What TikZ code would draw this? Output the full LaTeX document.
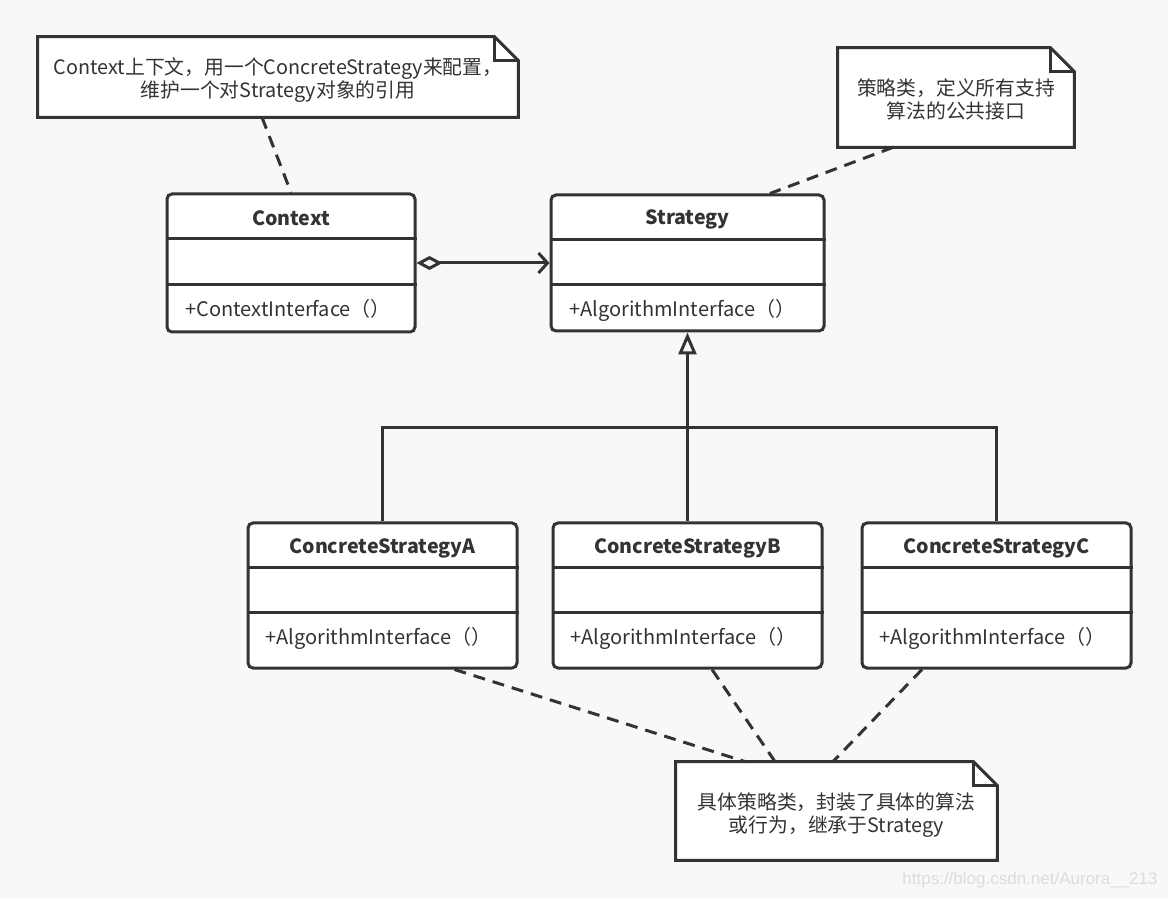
\documentclass[tikz,border=0pt]{standalone}
\usepackage{fontspec}
\setmainfont{Noto Sans CJK SC}
\newfontfamily\markfont{Liberation Sans}
\usetikzlibrary{arrows.meta}
\definecolor{line1}{HTML}{333333}
\definecolor{paper}{HTML}{F8F8F8}
\definecolor{mark1}{HTML}{DCDCDC}

% folded-corner note outline round an empty node
\newcommand{\notefold}[1]{%
  \filldraw[fill=white, draw=line1, line width=1.5pt, line join=miter]
    (#1.south west) -- (#1.north west) -- ([xshift=-12pt]#1.north east)
    -- ([yshift=-12pt]#1.north east) -- (#1.south east) -- cycle;
  \draw[line1, line width=1.5pt] ([xshift=-12pt]#1.north east) |- ([yshift=-12pt]#1.north east);
}

\tikzset{
  classbox/.style={draw=line1, fill=white, line width=1.5pt, rounded corners=2.5pt, inner sep=0pt},
  notebox/.style={inner sep=0pt},
  divider/.style={draw=line1, line width=1.5pt},
  classname/.style={font=\fontsize{9.8}{12}\selectfont\bfseries, text=line1},
  method/.style={font=\fontsize{10}{12}\selectfont, text=line1, anchor=west, inner sep=0pt},
  notetext/.style={font=\fontsize{9.9}{11.7}\selectfont, text=line1, align=center},
  notelink/.style={draw=line1, line width=1.5pt, dash pattern=on 6pt off 4pt},
  link/.style={draw=line1, line width=1.5pt}
}

\begin{document}
\begin{tikzpicture}[x=0.5pt, y=-0.5pt]
\useasboundingbox[fill=paper] (0,0) rectangle (1168,898);

% notes
\node[notebox, minimum width=240pt, minimum height=40pt] (contextnote) at (278,77) {};
\notefold{contextnote}
\node[notetext, yshift=-1.5pt] (contextnotetext) at (contextnote.center) {Context上下文，用一个ConcreteStrategy来配置，\\维护一个对Strategy对象的引用};

\node[notebox, minimum width=118pt, minimum height=49.5pt] (strategynote) at (956,97.5) {};
\notefold{strategynote}
\node[notetext, yshift=-1pt] (strategynotetext) at (strategynote.center) {策略类，定义所有支持\\算法的公共接口};

\node[notebox, minimum width=160.5pt, minimum height=49pt] (concretenote) at (836.5,811) {};
\notefold{concretenote}
\node[notetext, yshift=-2pt] (concretenotetext) at (concretenote.center) {具体策略类，封装了具体的算法\\或行为，继承于Strategy};

% classes
\node[classbox, minimum width=124pt, minimum height=69pt] (context) at (291,263) {};
\draw[divider] (context.west |- 0,239) -- (context.east |- 0,239);
\draw[divider] (context.west |- 0,285) -- (context.east |- 0,285);
\node[classname] (contextname) at (291,218) {Context};
\node[method] (contextop) at (185,309) {+ContextInterface（）};

\node[classbox, minimum width=136.5pt, minimum height=68pt] (strategy) at (687.5,263) {};
\draw[divider] (strategy.west |- 0,240) -- (strategy.east |- 0,240);
\draw[divider] (strategy.west |- 0,285) -- (strategy.east |- 0,285);
\node[classname] (strategyname) at (687.5,219) {Strategy};
\node[method] (strategyop) at (569,310) {+AlgorithmInterface（）};

\node[classbox, minimum width=134.5pt, minimum height=72.5pt] (concretea) at (382.5,595.5) {};
\draw[divider] (concretea.west |- 0,568) -- (concretea.east |- 0,568);
\draw[divider] (concretea.west |- 0,613) -- (concretea.east |- 0,613);
\node[classname] (concreteaname) at (382.5,548) {ConcreteStrategyA};
\node[method] (concreteaop) at (265,638) {+AlgorithmInterface（）};

\node[classbox, minimum width=134.5pt, minimum height=72.5pt] (concreteb) at (687.5,595.5) {};
\draw[divider] (concreteb.west |- 0,568) -- (concreteb.east |- 0,568);
\draw[divider] (concreteb.west |- 0,613) -- (concreteb.east |- 0,613);
\node[classname] (concretebname) at (687.5,548) {ConcreteStrategyB};
\node[method] (concretebop) at (570,638) {+AlgorithmInterface（）};

\node[classbox, minimum width=134.5pt, minimum height=72.5pt] (concretec) at (996.5,595.5) {};
\draw[divider] (concretec.west |- 0,568) -- (concretec.east |- 0,568);
\draw[divider] (concretec.west |- 0,613) -- (concretec.east |- 0,613);
\node[classname] (concretecname) at (996.5,548) {ConcreteStrategyC};
\node[method] (concretecop) at (879,638) {+AlgorithmInterface（）};

% aggregation and inheritance
\draw[link, {Diamond[open, length=13pt, width=7pt]}-{Straight Barb[length=4.5pt, width=10pt]}] (context.east) -- (strategy.west);
\coordinate (branch) at (687.5,428);
\draw[link, -{Triangle[open, length=11pt, width=9pt]}] (concreteb.north) -- (strategy.south);
\draw[link] (concretea.north) |- (branch) -| (concretec.north);

% note links
\draw[notelink] ([xshift=-8pt]contextnote.south) -- (context.north);
\draw[notelink] ([xshift=-31.5pt]strategynote.south) -- ([xshift=41.25pt]strategy.north);
\draw[notelink] ([xshift=36pt]concretea.south) -- ([xshift=-45.75pt]concretenote.north);
\draw[notelink] ([xshift=12.25pt]concreteb.south) -- ([xshift=-30.75pt]concretenote.north);
\draw[notelink] ([xshift=-37.25pt]concretec.south) -- ([xshift=-1.75pt]concretenote.north);

% watermark
\node[anchor=east, inner sep=0pt, text=mark1, font=\markfont\fontsize{8.5}{10}\selectfont] (mark) at (1158,880) {https://blog.csdn.net/Aurora\_\_213};
\end{tikzpicture}
\end{document}
